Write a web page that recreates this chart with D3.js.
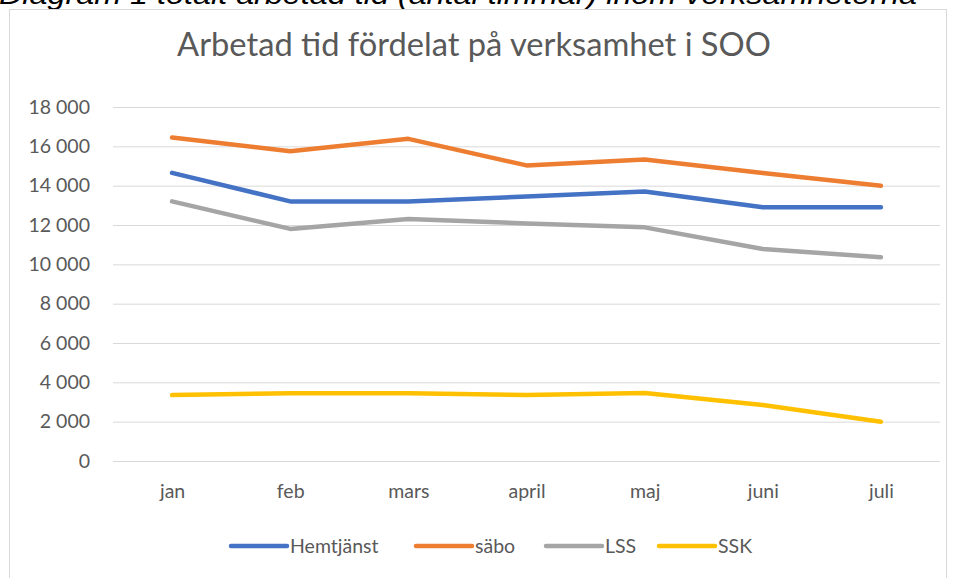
<!DOCTYPE html>
<html>
<head>
<meta charset="utf-8">
<script src="https://cdn.jsdelivr.net/npm/d3@7"></script>
<style>
  body { margin: 0; background: #fff; }
  svg { display: block; }
</style>
</head>
<body>
<svg width="957" height="578"></svg>
<script>
var months = ['jan', 'feb', 'mars', 'april', 'maj', 'juni', 'juli'];
var hemtjanst = [14650, 13200, 13200, 13450, 13700, 12900, 12900];
var sabo = [16450, 15750, 16380, 15030, 15330, 14640, 14000];
var lss = [13200, 11800, 12300, 12080, 11880, 10780, 10360];
var ssk = [3350, 3450, 3450, 3350, 3460, 2850, 2000];
var yTicks = [0, 2000, 4000, 6000, 8000, 10000, 12000, 14000, 16000, 18000];

var series = [
  { name: 'Hemtjänst', values: hemtjanst, color: '#4472C4' },
  { name: 'säbo', values: sabo, color: '#ED7D31' },
  { name: 'LSS', values: lss, color: '#A5A5A5' },
  { name: 'SSK', values: ssk, color: '#FFC000' }
];

var svg = d3.select('svg'),
  width = +svg.attr('width'),
  height = +svg.attr('height');

var font = 'Lato, "Open Sans", sans-serif';
var fs = 19.5;
var fmt = d3.formatLocale({ thousands: ' ', grouping: [3], decimal: ',', currency: ['', ''] }).format(',d');

// caption above the chart box (cut off at the top, as in the source)
svg.append('text')
  .attr('x', -1)
  .attr('y', 4)
  .attr('font-family', '"Liberation Sans", Arial, sans-serif')
  .attr('font-style', 'italic')
  .attr('font-size', 27)
  .attr('fill', '#000')
  .attr('textLength', 918)
  .attr('lengthAdjust', 'spacingAndGlyphs')
  .text('Diagram 1 totalt arbetad tid (antal timmar) inom verksamheterna');

// chart area border
svg.append('rect')
  .attr('x', 9.5)
  .attr('y', 9.5)
  .attr('width', 937)
  .attr('height', 620)
  .attr('fill', '#fff')
  .attr('stroke', '#D9D9D9');

// title, sized to fit the width it has in the picture
var title = svg.append('text')
  .attr('x', 474)
  .attr('y', 56)
  .attr('text-anchor', 'middle')
  .attr('font-family', font)
  .attr('font-size', 28)
  .attr('fill', '#595959')
  .text('Arbetad tid fördelat på verksamhet i SOO');
var tw = title.node().getComputedTextLength();
title.attr('font-size', 28 * 594 / tw);

var x = d3.scalePoint().domain(months).range([113, 940]).padding(0.5);
var y = d3.scaleLinear().domain([0, 18000]).range([461, 107]);

// gridlines + y labels
var yAxis = svg.append('g')
  .attr('transform', 'translate(113,0)')
  .call(d3.axisLeft(y).tickValues(yTicks).tickFormat(fmt).tickSize(-827).tickPadding(23));
yAxis.select('.domain').remove();
yAxis.selectAll('line').attr('stroke', '#D9D9D9');
yAxis.selectAll('text')
  .attr('fill', '#595959')
  .attr('font-family', font)
  .attr('font-size', fs);

// x labels
var xAxis = svg.append('g')
  .attr('transform', 'translate(0,461)')
  .call(d3.axisBottom(x).tickSize(0).tickPadding(23));
xAxis.select('.domain').remove();
xAxis.selectAll('text')
  .attr('fill', '#595959')
  .attr('font-family', font)
  .attr('font-size', fs);

var line = d3.line()
  .x(function(d, i) { return x(months[i]); })
  .y(function(d) { return y(d); });

svg.append('g')
  .selectAll('path')
  .data(series)
  .enter()
  .append('path')
  .attr('d', function(d) { return line(d.values); })
  .attr('fill', 'none')
  .attr('stroke', function(d) { return d.color; })
  .attr('stroke-width', 4.5)
  .attr('stroke-linejoin', 'round')
  .attr('stroke-linecap', 'round');

// legend
var legendX = [231, 416, 546, 659];
var legend = svg.append('g')
  .selectAll('g')
  .data(series)
  .enter()
  .append('g')
  .attr('transform', function(d, i) { return 'translate(' + legendX[i] + ',546)'; });
legend.append('line')
  .attr('x1', 0)
  .attr('x2', 56)
  .attr('stroke', function(d) { return d.color; })
  .attr('stroke-width', 4.5)
  .attr('stroke-linecap', 'round');
legend.append('text')
  .attr('x', 59)
  .attr('dy', '0.35em')
  .attr('fill', '#595959')
  .attr('font-family', font)
  .attr('font-size', fs)
  .text(function(d) { return d.name; });
</script>
</body>
</html>
